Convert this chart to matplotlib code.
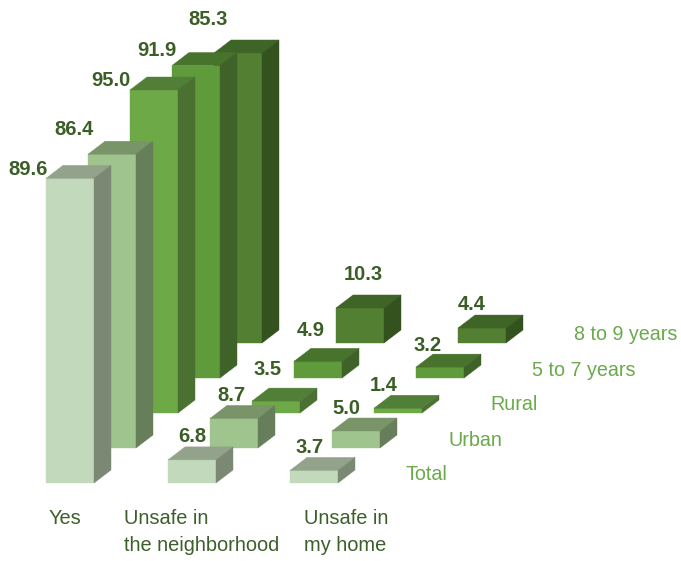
import matplotlib
matplotlib.use("Agg")
import matplotlib.pyplot as plt
from matplotlib.patches import Polygon
from matplotlib.transforms import offset_copy

plt.rcParams['font.family'] = ['Liberation Sans', 'DejaVu Sans']

# ---- data ----
categories = ["Yes", "Unsafe in\nthe neighborhood", "Unsafe in\nmy home"]
series = ["Total", "Urban", "Rural", "5 to 7 years", "8 to 9 years"]
total = [89.6, 6.8, 3.7]
urban = [86.4, 8.7, 5.0]
rural = [95.0, 3.5, 1.4]
age_5_7 = [91.9, 4.9, 3.2]
age_8_9 = [85.3, 10.3, 4.4]
values = [total, urban, rural, age_5_7, age_8_9]

# ---- styling: (front, top, side) per series ----
face_colors = [
    ("#c2d9bb", "#93a38b", "#7b8873"),
    ("#a0c48d", "#7a9469", "#667e59"),
    ("#6ea947", "#527f37", "#4a7131"),
    ("#5f9a3b", "#48732c", "#3e6227"),
    ("#537f32", "#3e6426", "#33521e"),
]
value_color = "#3b5e26"
cat_color = "#3d5f2b"
legend_color = "#6aaa4a"

W, H, DPI = 681, 561, 100
PX_X = 122.0          # pixels per category step
PX_Y = 3.4            # pixels per value unit
X0, Y0 = 46.0, 483.0  # pixel position of the first bar's front-left floor corner

bar_w = 48 / PX_X
depth_dx = 17 / PX_X
depth_dy = 13 / PX_Y
series_dx = 42 / PX_X
series_dy = 35 / PX_Y

# label nudges (px right, px up) relative to the front centre / back top edge of each bar
label_nudge = [
    [(-42, -4), (0, 10), (-4, 10)],
    [(-38, 12), (-3, 10), (-10, 9)],
    [(-43, -3), (-8, 19), (-14, 10)],
    [(-39, 2), (-7, 18), (-12, 9)],
    [(-30, 20), (3, 20), (-10, 11)],
]

fig = plt.figure(figsize=(W / DPI, H / DPI), dpi=DPI)
ax = fig.add_axes([0, 0, 1, 1])
ax.set_xlim(-X0 / PX_X, (W - X0) / PX_X)
ax.set_ylim(-(H - Y0) / PX_Y, Y0 / PX_Y)
ax.axis("off")

def px(xp, yp):
    return (xp - X0) / PX_X, (Y0 - yp) / PX_Y

# draw back rows first so nearer bars overlap them
for s in reversed(range(len(series))):
    front, top_c, side_c = face_colors[s]
    xs = [c + s * series_dx for c in range(len(categories))]
    base = s * series_dy
    ax.bar(xs, values[s], width=bar_w, bottom=base, align="edge",
           color=front, edgecolor=front, linewidth=0.3, zorder=10 - s)
    for c, v in enumerate(values[s]):
        x = xs[c]
        top = base + v
        top_face = [(x, top), (x + bar_w, top),
                    (x + bar_w + depth_dx, top + depth_dy), (x + depth_dx, top + depth_dy)]
        side_face = [(x + bar_w, base), (x + bar_w, top),
                     (x + bar_w + depth_dx, top + depth_dy), (x + bar_w + depth_dx, base + depth_dy)]
        ax.add_patch(Polygon(top_face, closed=True, facecolor=top_c, edgecolor=top_c,
                             linewidth=0.3, zorder=10 - s))
        ax.add_patch(Polygon(side_face, closed=True, facecolor=side_c, edgecolor=side_c,
                             linewidth=0.3, zorder=10 - s))
        nx, ny = label_nudge[s][c]
        tr = offset_copy(ax.transData, fig=fig, x=nx * 72 / DPI, y=ny * 72 / DPI, units="points")
        ax.text(x + bar_w / 2, top + depth_dy, f"{v:.1f}", transform=tr,
                ha="center", va="center", fontsize=14.5, fontweight="bold",
                color=value_color, zorder=20)

    # series name at the end of each row
    lx = 3 + s * series_dx - 6 / PX_X
    ly = base + 8 / PX_Y
    ax.text(lx, ly, series[s], ha="left", va="center", fontsize=14.2,
            color=legend_color, zorder=20)

# category names under the rows
cat_left_px = [49, 124, 304]
for c, name in enumerate(categories):
    tx, ty = px(cat_left_px[c], 509)
    ax.text(tx, ty, name, ha="left", va="top", fontsize=14.4, color=cat_color,
            linespacing=1.55)

fig.savefig("out.png", dpi=DPI)
